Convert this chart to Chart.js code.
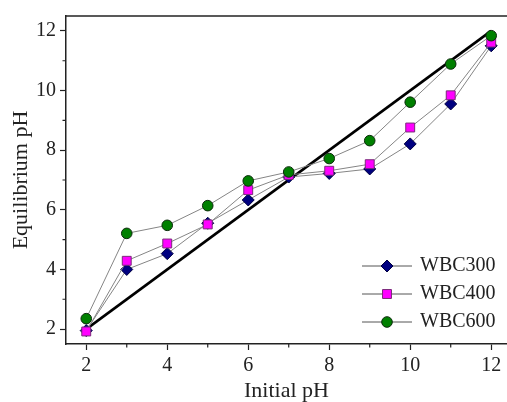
<!DOCTYPE html>
<html>
<head>
<meta charset="utf-8">
<script src="https://cdn.jsdelivr.net/npm/chart.js@4.4.1/dist/chart.umd.min.js"></script>
<style>
  body { margin: 0; background: #fff; overflow: hidden; }
</style>
</head>
<body>
<canvas id="phChart" width="507" height="402"></canvas>
<script>
// ------
// data
// ------
const initialPH = [2, 3, 4, 5, 6, 7, 8, 9, 10, 11, 12];
const wbc300 = [1.95, 4.0, 4.53, 5.55, 6.33, 7.1, 7.22, 7.37, 8.21, 9.55, 11.5];
const wbc400 = [1.92, 4.29, 4.87, 5.51, 6.66, 7.17, 7.31, 7.53, 8.76, 9.84, 11.61];
const wbc600 = [2.35, 5.21, 5.48, 6.14, 6.97, 7.27, 7.72, 8.32, 9.61, 10.89, 11.84];
const refX = [2, 12];
const refY = [2, 12];
const majorTicks = [2, 4, 6, 8, 10, 12];
const minorTicks = [3, 5, 7, 9, 11];
const legendLabels = ['WBC300', 'WBC400', 'WBC600'];

const serif = "'Times New Roman', 'Liberation Serif', Times, serif";
const ink = '#222';

const toPoints = (xs, ys) => xs.map((x, i) => ({ x: x, y: ys[i] }));

// ------
// top border, minor ticks and the legend inside the plot
// ------
const extras = {
  id: 'extras',
  afterDraw(chart) {
    const ctx = chart.ctx;
    const area = chart.chartArea;
    const sx = chart.scales.x;
    const sy = chart.scales.y;
    ctx.save();
    ctx.strokeStyle = ink;
    ctx.lineWidth = 1.5;
    ctx.beginPath();
    ctx.moveTo(area.left, area.top);
    ctx.lineTo(area.right, area.top);
    ctx.stroke();

    ctx.lineWidth = 1.2;
    ctx.beginPath();
    minorTicks.forEach(v => {
      const px = sx.getPixelForValue(v);
      ctx.moveTo(px, area.bottom);
      ctx.lineTo(px, area.bottom + 3.5);
      const py = sy.getPixelForValue(v);
      ctx.moveTo(area.left, py);
      ctx.lineTo(area.left - 3.5, py);
    });
    ctx.stroke();

    // legend
    const rows = [266, 294, 322];
    legendLabels.forEach((label, i) => {
      const ds = chart.data.datasets.find(d => d.label === label);
      const y = rows[i];
      ctx.strokeStyle = '#555';
      ctx.lineWidth = 1;
      ctx.beginPath();
      ctx.moveTo(362, y);
      ctx.lineTo(412, y);
      ctx.stroke();
      ctx.fillStyle = ds.pointBackgroundColor;
      ctx.strokeStyle = ds.pointBorderColor;
      ctx.lineWidth = 1;
      Chart.helpers.drawPoint(ctx, {
        pointStyle: ds.pointStyle,
        radius: ds.pointRadius,
        rotation: 0,
        borderWidth: 1
      }, 387, y);
      ctx.fillStyle = ink;
      ctx.font = '20px ' + serif;
      ctx.textAlign = 'left';
      ctx.textBaseline = 'alphabetic';
      ctx.fillText(label, 420, y + 5);
    });
    ctx.restore();
  }
};

const noSidePadding = s => { s.paddingLeft = 0; s.paddingRight = 0; };

const ctx = document.getElementById('phChart');
new Chart(ctx, {
  type: 'line',
  data: {
    datasets: [
      {
        label: 'WBC600',
        data: toPoints(initialPH, wbc600),
        borderColor: '#858585',
        borderWidth: 1,
        pointStyle: 'circle',
        pointRadius: 5.3,
        pointBackgroundColor: '#008000',
        pointBorderColor: '#0b2a0b',
        pointBorderWidth: 1,
        order: 0,
      },
      {
        label: 'WBC400',
        data: toPoints(initialPH, wbc400),
        borderColor: '#858585',
        borderWidth: 1,
        pointStyle: 'rect',
        pointRadius: 6.3,
        pointBackgroundColor: '#ff00ff',
        pointBorderColor: '#7a2a7a',
        pointBorderWidth: 1,
        order: 1,
      },
      {
        label: 'WBC300',
        data: toPoints(initialPH, wbc300),
        borderColor: '#858585',
        borderWidth: 1,
        pointStyle: 'rectRot',
        pointRadius: 6,
        pointBackgroundColor: '#000080',
        pointBorderColor: '#000040',
        pointBorderWidth: 1,
        order: 2,
      },
      {
        label: 'reference',
        data: toPoints(refX, refY),
        borderColor: '#000',
        borderWidth: 2.6,
        pointRadius: 0,
        order: 3,
      },
    ],
  },
  options: {
    responsive: false,
    animation: false,
    layout: {
      autoPadding: false,
      padding: { top: 16, right: 0, bottom: 0, left: 0 },
    },
    plugins: {
      legend: { display: false },
      tooltip: { enabled: false },
    },
    scales: {
      x: {
        type: 'linear',
        min: 1.5,
        max: 12.39,
        afterBuildTicks: s => { s.ticks = majorTicks.map(v => ({ value: v })); },
        afterFit: s => { s.height = 58; noSidePadding(s); },
        grid: { drawOnChartArea: false, tickLength: 6, tickColor: ink, tickWidth: 1.2 },
        border: { color: ink, width: 1.5 },
        ticks: { font: { family: serif, size: 20 }, color: ink, padding: 4, maxRotation: 0 },
        title: {
          display: true,
          text: 'Initial pH',
          font: { family: serif, size: 22, lineHeight: 1 },
          color: ink,
          padding: { top: 0, bottom: 0 },
        },
      },
      y: {
        type: 'linear',
        min: 1.5,
        max: 12.5,
        afterBuildTicks: s => { s.ticks = majorTicks.map(v => ({ value: v })); },
        afterFit: s => { s.width = 66; s.paddingTop = 0; s.paddingBottom = 0; },
        grid: { drawOnChartArea: false, tickLength: 6, tickColor: ink, tickWidth: 1.2 },
        border: { color: ink, width: 1.5 },
        ticks: { font: { family: serif, size: 20 }, color: ink, padding: 4 },
        title: {
          display: true,
          text: 'Equilibrium pH',
          font: { family: serif, size: 22, lineHeight: 1 },
          color: ink,
          padding: { top: 10, bottom: 0 },
        },
      },
    },
  },
  plugins: [extras],
});
// ------
// end chart
// ------
</script>
</body>
</html>
